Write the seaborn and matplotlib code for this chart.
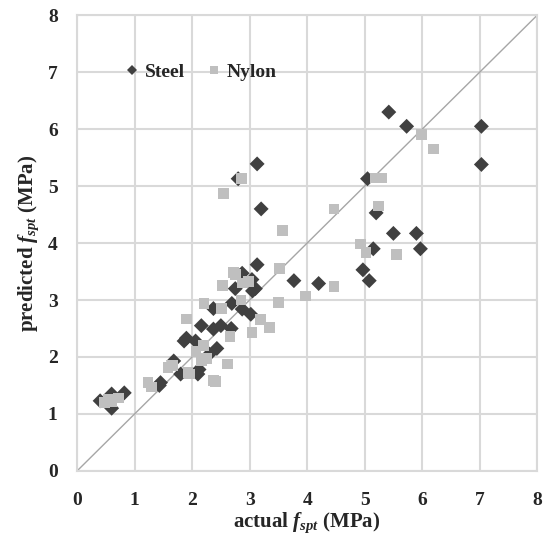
import matplotlib
matplotlib.use("Agg")
import matplotlib.pyplot as plt
import seaborn as sns
import pandas as pd

steel_x = [0.40, 0.60, 0.82, 0.60, 1.45, 1.43, 1.68, 1.80, 1.86, 2.10, 2.12, 2.16, 2.06, 1.90,
           2.37, 2.37, 2.43, 2.50, 2.68, 2.69, 2.75, 2.87, 2.87, 3.02, 3.04, 3.05, 3.10, 3.13,
           2.30, 2.80, 3.13, 3.20, 3.77, 4.20, 4.97, 5.08, 5.15, 5.05, 5.20, 5.42, 5.50, 5.73,
           5.90, 5.97, 7.03, 7.03]
steel_y = [1.23, 1.35, 1.37, 1.10, 1.55, 1.50, 1.93, 1.70, 2.28, 1.70, 1.78, 2.55, 2.28, 2.33,
           2.85, 2.49, 2.15, 2.55, 2.50, 2.94, 3.20, 2.84, 3.47, 2.75, 3.36, 3.16, 3.20, 3.62,
           2.05, 5.13, 5.39, 4.60, 3.34, 3.29, 3.53, 3.34, 3.90, 5.13, 4.53, 6.30, 4.17, 6.05,
           4.17, 3.90, 6.05, 5.38]
nylon_x = [0.48, 0.60, 0.72, 0.55, 1.23, 1.29, 1.58, 1.66, 1.90, 1.93, 1.95, 2.07, 2.16, 2.20,
           2.25, 2.21, 2.41, 2.37, 2.51, 2.53, 2.62, 2.66, 2.72, 2.75, 2.85, 2.88, 2.98, 3.04,
           3.19, 3.35, 3.50, 3.52, 3.97, 4.47, 2.55, 2.86, 3.57, 4.47, 4.93, 5.02, 5.55, 5.24,
           5.18, 5.30, 5.99, 6.20]
nylon_y = [1.20, 1.22, 1.28, 1.25, 1.55, 1.47, 1.82, 1.85, 2.67, 1.73, 1.70, 2.10, 1.94, 2.20,
           1.97, 2.94, 1.57, 1.59, 2.85, 3.25, 1.88, 2.36, 3.48, 3.45, 3.00, 3.30, 3.33, 2.43,
           2.66, 2.52, 2.96, 3.55, 3.07, 3.24, 4.87, 5.13, 4.22, 4.60, 3.98, 3.83, 3.80, 4.65,
           5.14, 5.14, 5.91, 5.65]
series = ["Steel", "Nylon"]
ticks = [0, 1, 2, 3, 4, 5, 6, 7, 8]

df = pd.DataFrame({
    "actual": steel_x + nylon_x,
    "predicted": steel_y + nylon_y,
    "type": [series[0]] * len(steel_x) + [series[1]] * len(nylon_x),
})

sns.set_style("white")
plt.rcParams["font.family"] = ["Liberation Serif", "DejaVu Serif"]
plt.rcParams["mathtext.fontset"] = "custom"
plt.rcParams["mathtext.it"] = "Liberation Serif:italic:bold"
plt.rcParams["mathtext.rm"] = "Liberation Serif:bold"

fig = plt.figure(figsize=(5.47, 5.45), dpi=100)
ax = fig.add_axes([0.141, 0.136, 0.841, 0.836])

ax.plot([0, 8], [0, 8], color="#a6a6a6", lw=1.0, zorder=1)

sns.scatterplot(data=df, x="actual", y="predicted", hue="type", style="type",
                markers={"Steel": "D", "Nylon": "s"},
                palette={"Steel": "#404040", "Nylon": "#bfbfbf"},
                s=58, linewidth=0, ax=ax, zorder=3)

ax.set_xlim(0, 8)
ax.set_ylim(0, 8)
ax.set_xticks(ticks)
ax.set_yticks(ticks)
ax.grid(True, color="#d9d9d9", lw=1.5, zorder=0)
ax.set_axisbelow(True)
for sp in ax.spines.values():
    sp.set_color("#d9d9d9")
    sp.set_linewidth(1.5)
ax.tick_params(axis="x", length=0, pad=15, labelsize=14)
ax.tick_params(axis="y", length=0, pad=14, labelsize=14)
for lab in ax.get_xticklabels() + ax.get_yticklabels():
    lab.set_fontweight("bold")

ax.set_xlabel(r"actual $f_{spt}$ (MPa)", fontsize=15, fontweight="bold", labelpad=1)
ax.set_ylabel(r"predicted $f_{spt}$ (MPa)", fontsize=15, fontweight="bold", labelpad=5)

sns.move_legend(ax, "center left", bbox_to_anchor=(0.064, 0.875), ncol=2, frameon=False,
                title=None, handlelength=0.8, handletextpad=0.25, columnspacing=1.1,
                markerscale=0.7, prop={"weight": "bold", "size": 14})

fig.savefig("out.png", dpi=100)
